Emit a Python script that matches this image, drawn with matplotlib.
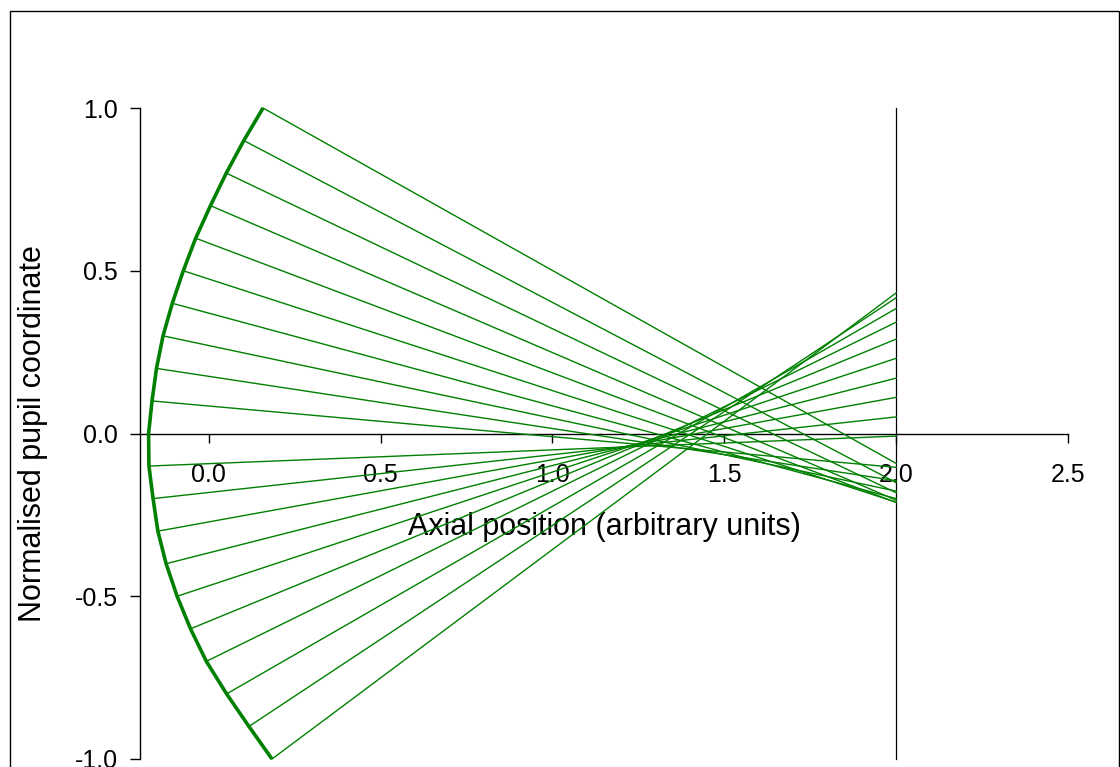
import matplotlib
matplotlib.use("Agg")
import matplotlib.pyplot as plt
from matplotlib.patches import Rectangle

plt.rcParams['font.family'] = ['Liberation Sans', 'DejaVu Sans']

# pupil heights of the rays (normalised)
pupil_y = [1.0, 0.9, 0.8, 0.7, 0.6, 0.5, 0.4, 0.3, 0.2, 0.1,
           -0.1, -0.2, -0.3, -0.4, -0.5, -0.6, -0.7, -0.8, -0.9, -1.0]
# axial position of the wavefront at each pupil height
wave_x = [0.158, 0.102, 0.051, 0.005, -0.038, -0.074, -0.106, -0.133, -0.152, -0.165,
          -0.174, -0.162, -0.148, -0.124, -0.092, -0.053, -0.007, 0.052, 0.117, 0.184]
# where each ray hits the screen at x = 2
screen_y = [-0.092, -0.151, -0.182, -0.205, -0.212, -0.211, -0.200, -0.177, -0.145, -0.104,
            -0.008, 0.051, 0.111, 0.170, 0.231, 0.290, 0.342, 0.384, 0.417, 0.432]
screen_x = 2.0

# wavefront curve (includes the on-axis point)
arc_y = [1.0, 0.9, 0.8, 0.7, 0.6, 0.5, 0.4, 0.3, 0.2, 0.1, 0.0,
         -0.1, -0.2, -0.3, -0.4, -0.5, -0.6, -0.7, -0.8, -0.9, -1.0]
arc_x = [0.158, 0.102, 0.051, 0.005, -0.038, -0.074, -0.106, -0.133, -0.152, -0.165, -0.175,
         -0.174, -0.162, -0.148, -0.124, -0.092, -0.053, -0.007, 0.052, 0.117, 0.184]

x_ticks = [0.0, 0.5, 1.0, 1.5, 2.0, 2.5]
x_tick_labels = ["0.0", "0.5", "1.0", "1.5", "2.0", "2.5"]
y_ticks = [-1.0, -0.5, 0.0, 0.5, 1.0]
y_tick_labels = ["-1.0", "-0.5", "0.0", "0.5", "1.0"]

green = '#008000'

fig = plt.figure(figsize=(11.2, 7.67), dpi=100)
ax = fig.add_axes([140 / 1120, 8 / 767, 928 / 1120, 651 / 767])

for y0, x0, y1 in zip(pupil_y, wave_x, screen_y):
    ax.plot([x0, screen_x], [y0, y1], color=green, lw=1.0, zorder=3, clip_on=False)
ax.plot(arc_x, arc_y, color=green, lw=2.6, zorder=4, clip_on=False,
        solid_joinstyle='round', solid_capstyle='butt')
ax.plot([screen_x, screen_x], [y_ticks[0], y_ticks[-1]], color='black', lw=0.9,
        zorder=2, clip_on=False)

ax.set_xlim(-0.2, 2.5)
ax.set_ylim(-1.0, 1.0)
ax.spines['top'].set_visible(False)
ax.spines['right'].set_visible(False)
ax.spines['bottom'].set_position(('data', 0))
ax.spines['bottom'].set_linewidth(1.0)
ax.spines['left'].set_linewidth(1.0)

ax.set_xticks(x_ticks)
ax.set_xticklabels(x_tick_labels)
ax.set_yticks(y_ticks)
ax.set_yticklabels(y_tick_labels)
ax.tick_params(axis='x', direction='out', length=6.5, width=1.0, pad=15, labelsize=18)
ax.tick_params(axis='y', direction='out', length=7, width=1.0, pad=9, labelsize=18)
for lab in ax.get_xticklabels():
    lab.set_zorder(1)

ax.text(0.5, 0.356, "Axial position (arbitrary units)", transform=ax.transAxes,
        ha='center', va='center', fontsize=22, zorder=1)
ax.text(-0.1158, 0.5, "Normalised pupil coordinate", transform=ax.transAxes,
        ha='center', va='center', rotation=90, fontsize=22)

fig.add_artist(Rectangle((10 / 1120, -0.05), 1109 / 1120, 1 - 11 / 767 + 0.05,
                         transform=fig.transFigure, fill=False, lw=1.0,
                         edgecolor='black'))

fig.savefig("out.png", dpi=100)
